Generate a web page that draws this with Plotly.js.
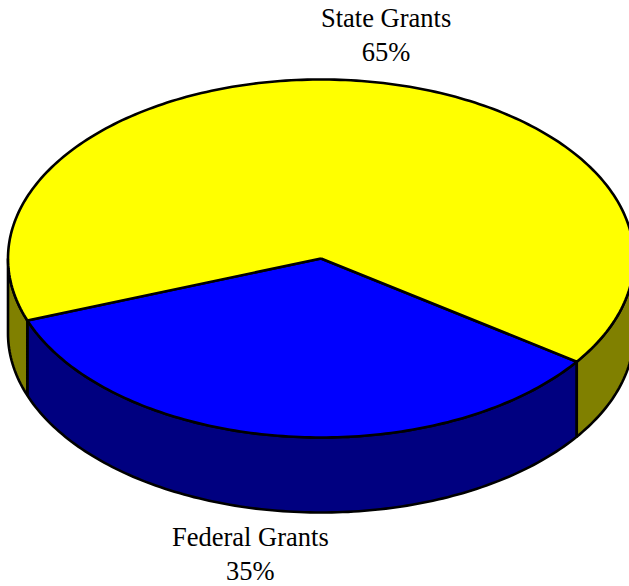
<!DOCTYPE html>
<html><head><meta charset="utf-8">
<script src="https://cdn.plot.ly/plotly-3.0.1.min.js"></script>
<style>html,body{margin:0;padding:0;background:#fff}#c{width:629px;height:586px}</style>
</head><body><div id="c"></div>
<script>
const categories = ["Federal Grants", "State Grants"];
const shares = [34.6, 65.4];
const topColors = ["#0000ff", "#ffff00"];
const sideColors = ["#000080", "#808000"];

const cx = 321, cy = 258.5, rx = 313, ry = 179, depth = 75, startAngle = 35.2;

function pt(a, dy) {
  const t = a * Math.PI / 180;
  return [cx + rx * Math.cos(t), cy + ry * Math.sin(t) + (dy || 0)];
}
function arc(a0, a1, dy) {
  const out = [];
  const n = Math.max(2, Math.ceil(Math.abs(a1 - a0)));
  for (let i = 0; i <= n; i++) out.push(pt(a0 + (a1 - a0) * i / n, dy));
  return out;
}
function poly(points, fill) {
  return {
    type: "scatter", mode: "lines", hoverinfo: "skip", showlegend: false,
    x: points.map(p => p[0]), y: points.map(p => p[1]),
    fill: "toself", fillcolor: fill,
    line: { color: "#000000", width: 2.6, simplify: false }
  };
}
function sideWall(a0, a1, color) {
  return poly(arc(a0, a1, 0).concat(arc(a1, a0, depth), [pt(a0, 0)]), color);
}

const total = shares.reduce((s, v) => s + v, 0);
const traces = [];
const tops = [];
const centre = [cx, cy];
let a = startAngle;
shares.forEach((v, i) => {
  const a0 = a, a1 = a + v / total * 360;
  a = a1;
  [[0, 180], [360, 540]].forEach(([lo, hi]) => {
    const s = Math.max(a0, lo), e = Math.min(a1, hi);
    if (e > s) traces.push(sideWall(s, e, sideColors[i]));
  });
  tops.push(poly([centre].concat(arc(a0, a1, 0), [centre]), topColors[i]));
});

const annotations = categories.map((name, i) => ({
  text: name + "<br>" + Math.round(shares[i] / total * 100) + "%",
  x: i === 0 ? 250.5 : 386,
  y: i === 0 ? 553.5 : 35,
  xref: "x", yref: "y", showarrow: false, align: "center",
  font: { family: "Liberation Serif, serif", size: 26.5, color: "#000000" }
}));

Plotly.newPlot("c", traces.concat(tops), {
  width: 629, height: 586,
  margin: { l: 0, r: 0, t: 0, b: 0 },
  paper_bgcolor: "#ffffff", plot_bgcolor: "#ffffff",
  showlegend: false,
  xaxis: { range: [0, 629], visible: false, fixedrange: true },
  yaxis: { range: [586, 0], visible: false, fixedrange: true },
  annotations
}, { displayModeBar: false, staticPlot: true });
</script></body></html>
